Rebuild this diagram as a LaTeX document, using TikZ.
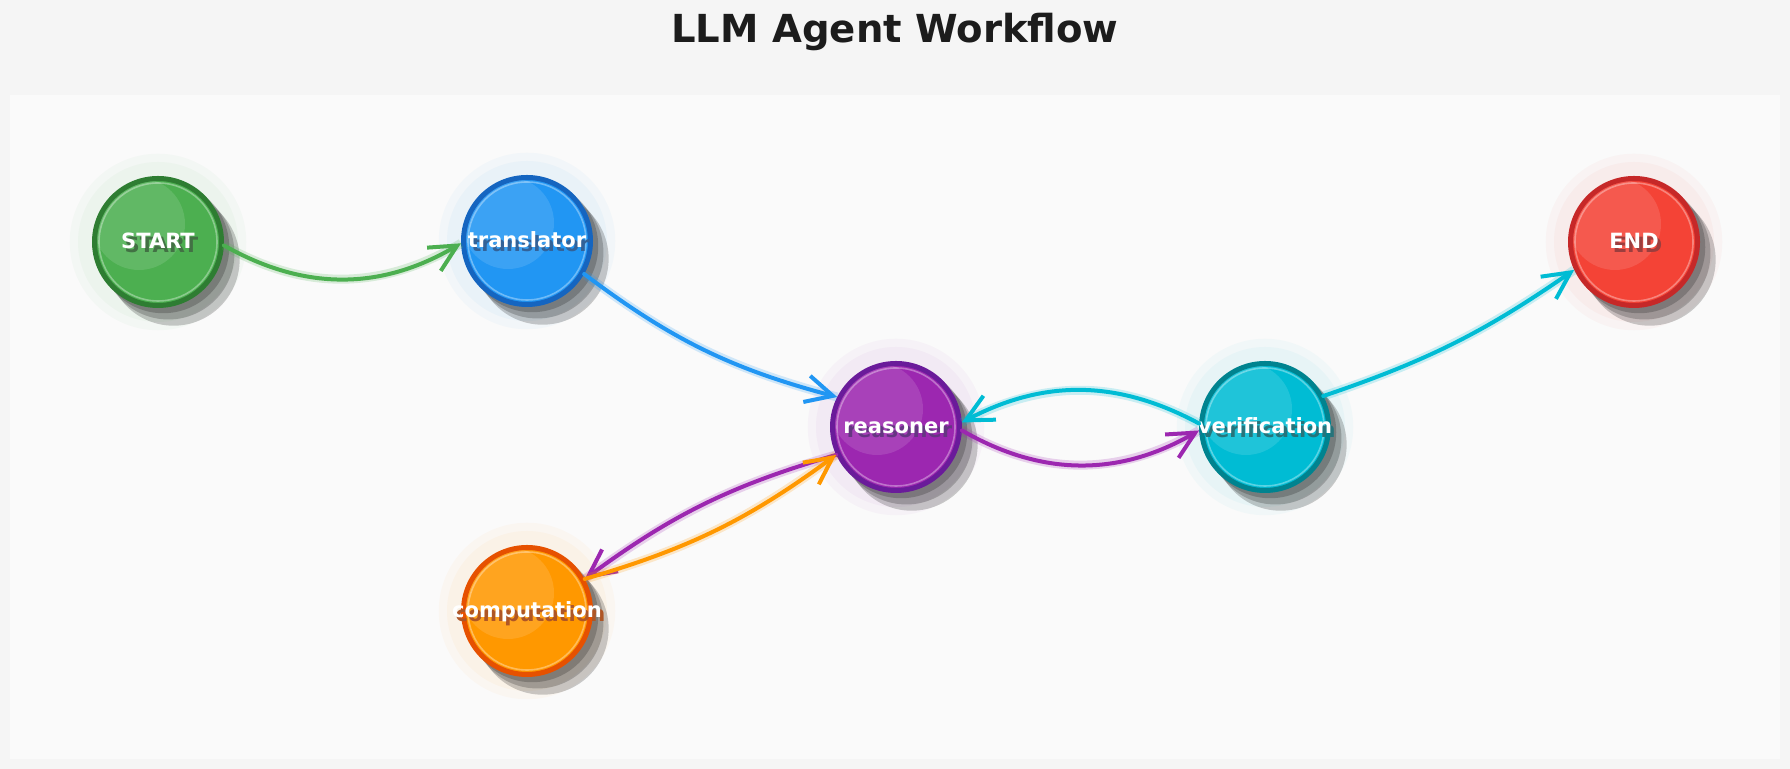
\documentclass[tikz,border=0pt]{standalone}
\usepackage{fontspec}
\setmainfont{DejaVu Sans}
\usepackage{tikz}
\usetikzlibrary{arrows.meta,shadows}
\usepackage{xcolor}
\definecolor{PageGrey}{HTML}{F5F5F5}
\definecolor{PanelGrey}{HTML}{FAFAFA}
\definecolor{TitleInk}{HTML}{1C1C1C}
\definecolor{StartGreen}{HTML}{4CAF50}
\definecolor{StartGreenDark}{HTML}{2E7D32}
\definecolor{TransBlue}{HTML}{2196F3}
\definecolor{TransBlueDark}{HTML}{1565C0}
\definecolor{ReasonPurple}{HTML}{9C27B0}
\definecolor{ReasonPurpleDark}{HTML}{6A1B9A}
\definecolor{VerifyCyan}{HTML}{00BCD4}
\definecolor{VerifyCyanDark}{HTML}{00838F}
\definecolor{ComputeOrange}{HTML}{FF9800}
\definecolor{ComputeOrangeDark}{HTML}{E65100}
\definecolor{EndRed}{HTML}{F44336}
\definecolor{EndRedDark}{HTML}{C62828}
\newcommand{\balllabel}[1]{\makebox[0pt]{\hspace*{3.5pt}\raisebox{-1.8pt}{\color{lblshade}#1}}\makebox[0pt]{#1}}

\begin{document}
\begin{tikzpicture}[
    x=0.5pt,y=0.5pt,
    ball/.style={circle,minimum size=63.5pt,inner sep=0pt,line width=2.5pt,
      draw=#1Dark,fill=#1,text=white,font=\bfseries\fontsize{10.5}{12}\selectfont,
      text height=7pt,text depth=0pt,
      execute at begin node={\colorlet{lblshade}{#1Dark!70!black!85!white}},
      general shadow={fill=#1,opacity=.035,shadow scale=1.39},
      general shadow={fill=#1,opacity=.04,shadow scale=1.26},
      general shadow={fill=black,opacity=.2,shadow scale=1.04,shadow xshift=7.5pt,shadow yshift=-8.5pt},
      general shadow={fill=black,opacity=.2,shadow scale=1.04,shadow xshift=5pt,shadow yshift=-5.5pt},
      general shadow={fill=black,opacity=.2,shadow scale=1.04,shadow xshift=2.5pt,shadow yshift=-2.5pt},
      path picture={
        \fill[white,opacity=.12] ([shift={(-9.5pt,9pt)}]path picture bounding box.center) circle (23pt);
        \draw[white,opacity=.35,line width=.8pt] (path picture bounding box.center) circle (29.5pt);
      }},
    flow/.style={line width=2pt,line cap=round,draw=#1,-{Straight Barb[length=13.5pt,width=13.5pt]},
      preaction={draw=#1,draw opacity=.2,line width=4.5pt,-}}
  ]
    \fill[PageGrey] (0,0) rectangle (1790,769);
    \fill[PanelGrey] (10,10) rectangle (1780,674);
    \node[anchor=base,text=TitleInk,font=\bfseries\fontsize{19.3}{23}\selectfont] (title) at (895,726) {LLM Agent Workflow};

    \node[ball=StartGreen] (start) at (158,527) {\balllabel{START}};
    \node[ball=TransBlue] (translator) at (527,528) {\balllabel{translator}};
    \node[ball=ReasonPurple] (reasoner) at (896,342) {\balllabel{reasoner}};
    \node[ball=VerifyCyan] (verification) at (1265,342) {\balllabel{verification}};
    \node[ball=ComputeOrange] (computation) at (527,158) {\balllabel{computation}};
    \node[ball=EndRed] (finish) at (1634,527) {\balllabel{END}};

    \draw[flow=StartGreen] (start.-3) to[bend right=30] (translator.182);
    \draw[flow=TransBlue] (translator.-30) to[bend right=11] (reasoner.153);
    \draw[flow=ReasonPurple] (reasoner.-3) to[bend right=30] (verification.183);
    \draw[flow=VerifyCyan] (verification.177) to[bend right=28] (reasoner.4);
    \draw[flow=VerifyCyan] (verification.28) to[bend right=8] (finish.205);
    \draw[flow=ReasonPurple] (reasoner.205) to[bend right=10] (computation.29);
    \draw[flow=ComputeOrange] (computation.29) to[bend right=10] (reasoner.205);
  \end{tikzpicture}
\end{document}
